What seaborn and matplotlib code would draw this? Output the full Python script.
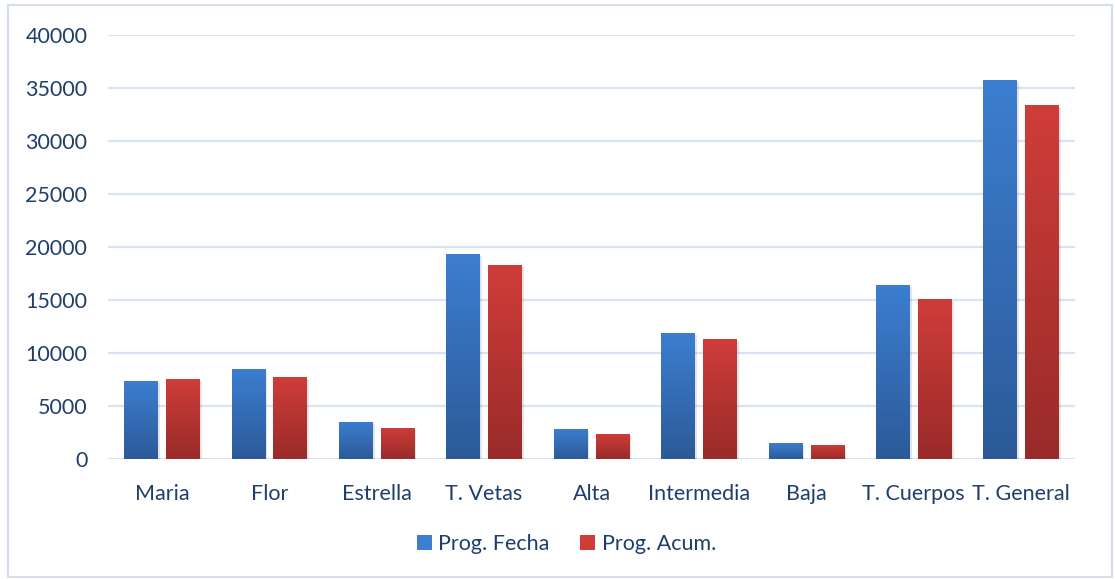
import numpy as np
import pandas as pd
import matplotlib
matplotlib.use("Agg")
import matplotlib.pyplot as plt
import matplotlib.patheffects as pe
from matplotlib.patches import Rectangle
from matplotlib.colors import LinearSegmentedColormap
import seaborn as sns

categories = ["Maria", "Flor", "Estrella", "T. Vetas", "Alta", "Intermedia", "Baja", "T. Cuerpos", "T. General"]
prog_fecha = [7400, 8500, 3500, 19350, 2850, 11900, 1500, 16400, 35750]
prog_acum = [7550, 7750, 2950, 18300, 2400, 11350, 1350, 15100, 33400]
series_names = ["Prog. Fecha", "Prog. Acum."]

df = pd.DataFrame({
    "cat": categories * 2,
    "val": prog_fecha + prog_acum,
    "serie": [series_names[0]] * len(categories) + [series_names[1]] * len(categories),
})

sns.set_theme(style="white")
plt.rcParams["font.family"] = ["Lato", "DejaVu Sans"]

text_color = "#1F3E6B"
grad = {
    series_names[0]: ("#3C7ED0", "#2C5A98"),
    series_names[1]: ("#D03D39", "#982B2A"),
}

fig = plt.figure(figsize=(11.15, 5.79), dpi=100)
fig.patch.set_facecolor("white")
fig.add_artist(Rectangle((0.007, 0.004), 0.99, 0.988, transform=fig.transFigure,
                         fill=False, edgecolor="#D5DEEC", linewidth=1.5))
ax = fig.add_axes([0.097, 0.2073, 0.867, 0.7323])

sns.barplot(data=df, x="cat", y="val", hue="serie", order=categories,
            hue_order=series_names, palette=[grad[s][0] for s in series_names],
            width=0.78, gap=0.2, ax=ax, legend=True, errorbar=None, saturation=1,
            linewidth=0)

ax.set_ylim(0, 40000)
ax.set_yticks(np.arange(0, 40001, 5000))
ax.yaxis.grid(True, color="#D9E3F1", linewidth=1.6)
ax.set_axisbelow(True)
for s in ax.spines.values():
    s.set_visible(False)
ax.set_xlabel("")
ax.set_ylabel("")
ax.tick_params(axis="both", length=0, labelsize=15.5, colors=text_color)
ax.tick_params(axis="x", pad=18)
ax.tick_params(axis="y", pad=15)
ax.set_xlim(-0.5, len(categories) - 0.5)

# gradient fill for each bar
bars = [p for p in ax.patches if isinstance(p, Rectangle) and p.get_height() > 0]
n = len(categories)
for i, p in enumerate(bars[:2 * n]):
    s = series_names[i // n]
    top, bot = grad[s]
    cmap = LinearSegmentedColormap.from_list("g", [bot, top])
    x0, y0 = p.get_x(), p.get_y()
    w, h = p.get_width(), p.get_height()
    p.set_linewidth(0)
    p.set_path_effects([pe.SimplePatchShadow(offset=(1.5, -1.5), shadow_rgbFace="#000000", alpha=0.10),
                        pe.Normal()])
    img = ax.imshow(np.linspace(0, 1, 256).reshape(-1, 1), cmap=cmap, origin="lower",
                    extent=[x0, x0 + w, y0, y0 + h], aspect="auto", zorder=p.get_zorder() + 0.1)
    img.set_clip_path(p)
ax.set_xlim(-0.5, len(categories) - 0.5)
ax.set_ylim(0, 40000)

new_handles = [Rectangle((0, 0), 1, 1, facecolor=grad[s][0], edgecolor="none") for s in series_names]
ax.legend(new_handles, series_names, loc="center", bbox_to_anchor=(0.508, 0.06),
          bbox_transform=fig.transFigure, ncol=2, frameon=False, fontsize=15.5,
          handlelength=0.7, handleheight=0.7, handletextpad=0.3, columnspacing=1.4,
          labelcolor=text_color)

fig.savefig("out.png", dpi=100)
